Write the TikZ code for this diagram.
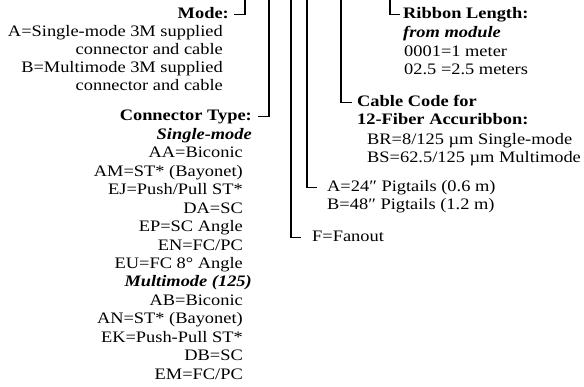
\documentclass[tikz,border=0pt]{standalone}
\usepackage{fontspec}
\setmainfont{Liberation Serif}[FakeStretch=1.15]
\usetikzlibrary{positioning}
\tikzset{
  txt/.style={inner sep=0pt,text height=11pt,text depth=2pt,font=\fontsize{16}{18.5}\selectfont},
  lbl/.style={txt,anchor=base east},
  rlbl/.style={txt,anchor=base west},
  head/.style={font=\fontsize{16}{18.5}\selectfont\bfseries},
  subhead/.style={font=\fontsize{16}{18.5}\selectfont\bfseries\itshape},
  hook/.style={draw,line width=1.2pt,line cap=butt},
}

\begin{document}
\begin{tikzpicture}[x=1pt,y=-1pt]
\useasboundingbox (0,0) rectangle (584,387);

% tops of the code fields
\coordinate (tmode) at (245,0);
\coordinate (tconn) at (269,0);
\coordinate (tfan) at (291,0);
\coordinate (tpig) at (307,0);
\coordinate (tcable) at (341,0);
\coordinate (tribbon) at (390,0);

% left side
\node[lbl,head] (mode) at (229,19) {Mode:};
\node[lbl] (modea) at (223,37) {A=Single-mode 3M supplied};
\node[lbl] (modea2) at (223,55) {connector and cable};
\node[lbl] (modeb) at (223,73) {B=Multimode 3M supplied};
\node[lbl] (modeb2) at (223,91) {connector and cable};

\node[lbl,head] (conn) at (252,121) {Connector Type:};
\node[lbl,subhead] (single) at (252,139.5) {Single-mode};
\foreach \t [count=\i] in {{AA=Biconic},{AM=ST* (Bayonet)},{EJ=Push/Pull ST*},{DA=SC},{EP=SC Angle},{EN=FC/PC},{EU=FC 8° Angle}}
  \node[lbl] (sm\i) at (243,{139.5+18.5*\i}) {\t};
\node[lbl,subhead] (multi) at (252,287) {Multimode (125)};
\foreach \t [count=\i] in {{AB=Biconic},{AN=ST* (Bayonet)},{EK=Push-Pull ST*},{DB=SC},{EM=FC/PC}}
  \node[lbl] (mm\i) at (243,{287+18.5*\i}) {\t};

% right side
\node[rlbl,head] (ribbon) at (403,19) {Ribbon Length:};
\node[rlbl,subhead] (frommod) at (403,38) {from module};
\node[rlbl] (len1) at (404,57) {0001=1 meter};
\node[rlbl] (len2) at (404,75) {02.5 =2.5 meters};

\node[rlbl,head] (cable) at (357,107) {Cable Code for};
\node[rlbl,head] (cable2) at (357,125) {12-Fiber Accuribbon:};
\node[rlbl] (br) at (367,145) {BR=8/125 µm Single-mode};
\node[rlbl] (bs) at (367,163) {BS=62.5/125 µm Multimode};

\node[rlbl] (piga) at (327,192) {A=24″ Pigtails (0.6 m)};
\node[rlbl] (pigb) at (327,210) {B=48″ Pigtails (1.2 m)};

\node[rlbl] (fan) at (312,242) {F=Fanout};

% hooks
\draw[hook,shorten >=5pt] (tmode) |- (mode.east);
\draw[hook,shorten >=6pt] (tconn) |- (conn.east);
\draw[hook,shorten >=11pt] (tfan) |- (fan.west);
\draw[hook,shorten >=10pt] (tpig) |- (piga.west);
\draw[hook,shorten >=5pt] (tcable) |- (cable.west);
\draw[hook,shorten >=3pt] (tribbon) |- (ribbon.west);

\end{tikzpicture}
\end{document}
